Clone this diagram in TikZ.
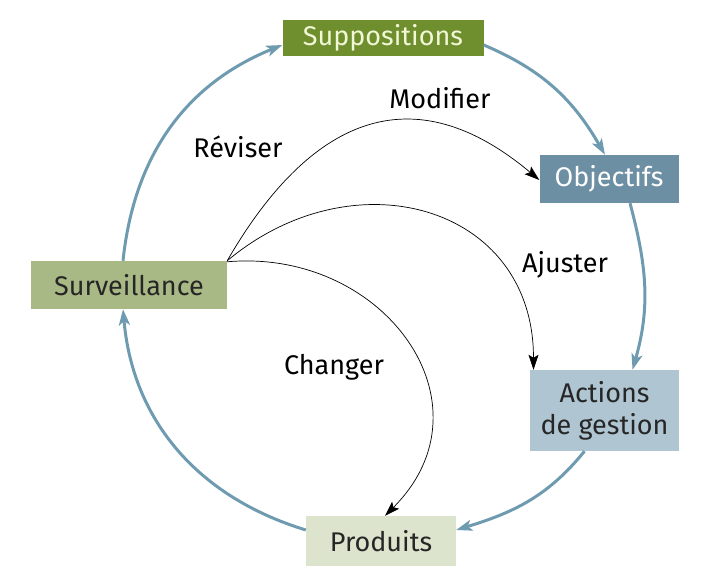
\documentclass[tikz,border=0pt]{standalone}
\usepackage{fontspec}
\setmainfont{Fira Sans}
\usetikzlibrary{arrows.meta}

\definecolor{supgreen}{HTML}{6F8F2F}
\definecolor{suptext}{HTML}{F2F7D6}
\definecolor{objblue}{HTML}{6C8FA3}
\definecolor{survgreen}{HTML}{A9B985}
\definecolor{actblue}{HTML}{AFC5D2}
\definecolor{prodgreen}{HTML}{DDE4CD}
\definecolor{loopblue}{HTML}{6F9BB1}

\tikzset{
  box/.style={inner sep=0pt, align=center, font=\fontsize{27}{32}\selectfont},
  boucle/.style={draw=loopblue, line width=3pt, -{Stealth[length=16pt,width=11pt,inset=4pt]}},
  retour/.style={draw=black, line width=0.7pt, -{Stealth[length=15pt,width=10pt,inset=3pt]}},
  etiquette/.style={font=\fontsize{27}{32}\selectfont}
}

\begin{document}
\begin{tikzpicture}[x=1pt, y=1pt]

    \useasboundingbox (0,0) rectangle (717,577);

    % boites
    \node[box, fill=supgreen, text=suptext, minimum width=201pt, minimum height=36pt] (sup) at (383,539) {Suppositions};
    \node[box, fill=objblue, text=white, minimum width=139pt, minimum height=48pt] (obj) at (609,398) {Objectifs};
    \node[box, fill=survgreen, text=black!85, minimum width=196pt, minimum height=48pt] (surv) at (129,292) {Surveillance};
    \node[box, fill=actblue, text=black!85, minimum width=149pt, minimum height=81pt] (act) at (604.5,166.5) {Actions\\de gestion};
    \node[box, fill=prodgreen, text=black!85, minimum width=150pt, minimum height=50pt] (prod) at (381,36) {Produits};

    % cycle
    \draw[boucle] ([xshift=-6pt]surv.north) to[out=84, in=-158] ([yshift=-7pt]sup.west);
    \draw[boucle] ([yshift=-7pt]sup.east) to[out=-23, in=120] ([xshift=-4pt]obj.north);
    \draw[boucle] ([xshift=21pt]obj.south) to[out=-75, in=74] ([xshift=28pt]act.north);
    \draw[boucle] ([xshift=-20pt]act.south) to[out=-129, in=17] ([yshift=11pt]prod.east);
    \draw[boucle] ([yshift=11pt]prod.west) to[out=163, in=-85] ([xshift=-6pt]surv.south);

    % retours depuis la surveillance
    \draw[retour] (surv.north east) to[out=60, in=140, out looseness=1.2, in looseness=1.4] ([yshift=-1pt]obj.west);
    \draw[retour] (surv.north east) to[out=40, in=90, looseness=1.3] ([xshift=-71pt]act.north);
    \draw[retour] ([yshift=-1pt]surv.north east) to[out=5, in=45, looseness=1.35] ([xshift=4pt]prod.north);

    % etiquettes
    \node[etiquette] (rev) at (238,430) {Réviser};
    \node[etiquette] (mod) at (440,479) {Modifier};
    \node[etiquette] (aju) at (565,312) {Ajuster};
    \node[etiquette] (cha) at (334,210) {Changer};

\end{tikzpicture}
\end{document}
